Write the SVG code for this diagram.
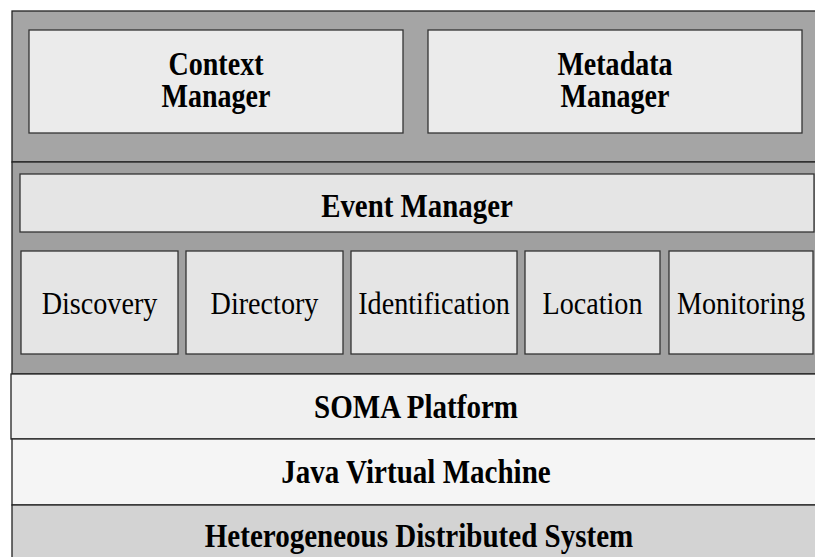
<svg xmlns="http://www.w3.org/2000/svg" width="815" height="557" viewBox="0 0 815 557">
  <style>
    .frame { stroke: #222; stroke-width: 1.3; }
    .box { stroke: #333; stroke-width: 1.3; }
    .bold { font-family: "Liberation Serif", "Times New Roman", serif; font-weight: bold; font-size: 33px; fill: #000; text-anchor: middle; }
    .reg { font-family: "Liberation Serif", "Times New Roman", serif; font-size: 32px; fill: #000; text-anchor: middle; }
  </style>
  <rect width="815" height="557" fill="#ffffff"/>

  <!-- upper management tier -->
  <g id="management-tier">
    <rect class="frame" x="12" y="11" width="810" height="151" fill="#a5a5a5"/>
  </g>
  <g id="context-manager">
    <rect class="box" x="29" y="30" width="374" height="103" fill="#ebebeb"/>
    <text class="bold" transform="translate(216,75) scale(0.85,1)">Context</text>
    <text class="bold" transform="translate(216,107) scale(0.85,1)">Manager</text>
  </g>
  <g id="metadata-manager">
    <rect class="box" x="428" y="30" width="374" height="103" fill="#ebebeb"/>
    <text class="bold" transform="translate(615,75) scale(0.85,1)">Metadata</text>
    <text class="bold" transform="translate(615,107) scale(0.85,1)">Manager</text>
  </g>

  <!-- service tier -->
  <g id="service-tier">
    <rect class="frame" x="12" y="162" width="810" height="212" fill="#a0a0a0"/>
  </g>
  <g id="event-manager">
    <rect class="box" x="20" y="174" width="794" height="58" fill="#e5e5e5"/>
    <text class="bold" transform="translate(417,217) scale(0.875,1)">Event Manager</text>
  </g>
  <g id="discovery">
    <rect class="box" x="21" y="251" width="157" height="103" fill="#e5e5e5"/>
    <text class="reg" transform="translate(99.5,314) scale(0.88,1)">Discovery</text>
  </g>
  <g id="directory">
    <rect class="box" x="186" y="251" width="157" height="103" fill="#e5e5e5"/>
    <text class="reg" transform="translate(264.5,314) scale(0.88,1)">Directory</text>
  </g>
  <g id="identification">
    <rect class="box" x="351" y="251" width="166" height="103" fill="#e5e5e5"/>
    <text class="reg" transform="translate(434,314) scale(0.88,1)">Identification</text>
  </g>
  <g id="location">
    <rect class="box" x="525" y="251" width="135" height="103" fill="#e5e5e5"/>
    <text class="reg" transform="translate(592.5,314) scale(0.88,1)">Location</text>
  </g>
  <g id="monitoring">
    <rect class="box" x="669" y="251" width="144" height="103" fill="#e5e5e5"/>
    <text class="reg" transform="translate(741,314) scale(0.88,1)">Monitoring</text>
  </g>

  <!-- platform layers -->
  <g id="soma-platform">
    <rect class="frame" x="11" y="374" width="812" height="65" fill="#f0f0f0"/>
    <text class="bold" transform="translate(416,418) scale(0.88,1)">SOMA Platform</text>
  </g>
  <g id="java-virtual-machine">
    <rect class="frame" x="12" y="439" width="811" height="66" fill="#f5f5f5"/>
    <text class="bold" transform="translate(416,483) scale(0.88,1)">Java Virtual Machine</text>
  </g>
  <g id="heterogeneous-distributed-system">
    <rect class="frame" x="12" y="505" width="811" height="60" fill="#d3d3d3"/>
    <text class="bold" transform="translate(419,547) scale(0.88,1)">Heterogeneous Distributed System</text>
  </g>

  <g id="connectors"/>
</svg>
